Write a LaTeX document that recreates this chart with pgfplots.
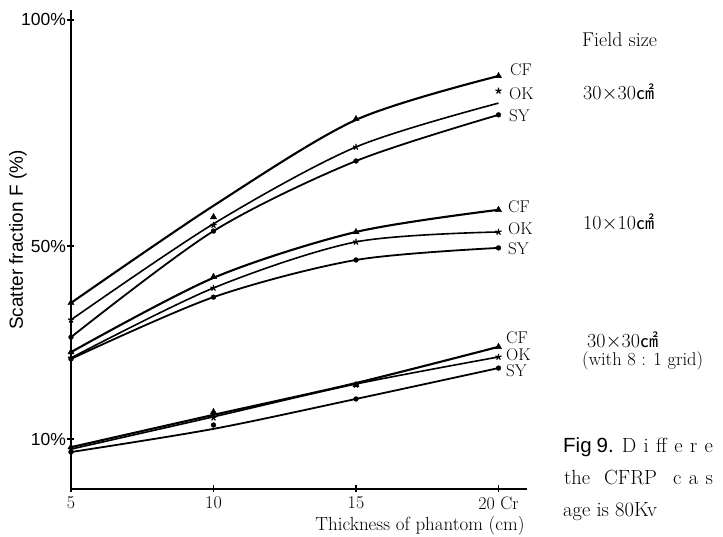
\documentclass[border=0pt]{standalone}
\usepackage{fontspec}
\usepackage{pgfplots}
\usepackage{pgfplotstable}
\pgfplotsset{compat=1.18}
\newfontfamily\sansfont{Liberation Sans}
\newfontfamily\cjk{Noto Sans CJK JP}
\newfontfamily\spacedrm{Latin Modern Roman}[LetterSpace=36]

% Scatter fraction (%) against phantom thickness (cm).
% cf/ok/sy: drawn curves, cfm/okm/sym: measured points
\pgfplotstableread{
x  cf   ok   sy   cfm  okm  sym
5  38.2 34.7 31.1 38.2 34.7 31.1
10 58.9 54.9 53.3 56.4 54.6 53.3
15 77.9 71.9 68.8 78.1 71.9 68.8
20 87.6 81.6 79.0 87.6 84.3 79.0
}\fieldlarge
\pgfplotstableread{
x  cf   ok   sy   cfm  okm  sym
5  28.0 26.8 26.6 28.0 26.8 26.6
10 43.4 41.3 39.4 43.6 41.3 39.4
15 53.1 50.9 47.1 53.1 50.9 47.1
20 58.0 53.1 49.6 58.0 53.1 49.6
}\fieldsmall
\pgfplotstableread{
x  cf   ok   sy   cfm  okm  sym
5  8.3  7.9  7.3  8.3  7.9  7.3
10 15.0 14.6 12.1 15.6 14.4 12.9
15 21.6 21.4 18.3 21.2 21.2 18.3
20 29.1 27.0 24.7 29.1 27.0 24.7
}\fieldgrid

\newcommand\curveset[1]{%
  \addplot[smooth, line width=2.1pt] table[x=x,y=cf]{#1};
  \addplot[smooth, line width=1.6pt] table[x=x,y=ok]{#1};
  \addplot[smooth, line width=1.8pt] table[x=x,y=sy]{#1};
  \addplot[only marks, mark=triangle*, mark size=3.6pt] table[x=x,y=cfm]{#1};
  \addplot[only marks, mark=star, mark size=3.2pt, mark options={line width=1.2pt}] table[x=x,y=okm]{#1};
  \addplot[only marks, mark=*, mark size=2.4pt] table[x=x,y=sym]{#1};
}

\begin{document}
\begin{tikzpicture}[x=1pt,y=1pt]
\path[use as bounding box] (-71,-48) rectangle (652,489);
\begin{axis}[
  at={(0,0)}, anchor=south west,
  scale only axis, width=456pt, height=479pt,
  xmin=5, xmax=21, ymin=-0.36, ymax=102.2,
  y coord trafo/.code={\pgfmathparse{#1<50 ? #1 : 50+(#1-50)*0.9368}},
  axis x line=bottom, axis y line=left,
  axis line style={-, line width=1.4pt},
  xtick={5,10,15,20}, xticklabels={5,10,15,20 Cr},
  ytick={10,50,100}, yticklabels={10\%,50\%,100\%},
  tick align=center, major tick length=7pt,
  tick style={line width=1.2pt, black},
  xticklabel style={font=\fontsize{18}{20}\selectfont, yshift=-1pt},
  yticklabel style={font=\sansfont\fontsize{17.5}{20}\selectfont, xshift=2pt},
  clip=false,
]
\curveset{\fieldlarge}
\curveset{\fieldsmall}
\curveset{\fieldgrid}
\end{axis}

% curve names
\begin{scope}[every node/.style={anchor=base west, inner sep=0pt, font=\fontsize{17}{19}\selectfont}]
\node at (439,413) {CF};
\node at (438,389) {OK};
\node at (438,367) {SY};
\node at (437,276) {CF};
\node at (437,254) {OK};
\node at (437,234) {SY};
\node at (435,145) {CF};
\node at (435,128) {OK};
\node at (435,112) {SY};
\end{scope}

% field sizes
\begin{scope}[every node/.style={anchor=base west, inner sep=0pt, font=\fontsize{20}{22}\selectfont}]
\node at (511,442) {Field size};
\node at (512,389) {30$\times$30{\cjk\fontsize{18}{20}\selectfont ㎠}};
\node at (512,259) {10$\times$10{\cjk\fontsize{18}{20}\selectfont ㎠}};
\node at (516,141) {30$\times$30{\cjk\fontsize{18}{20}\selectfont ㎠}};
\node[font=\fontsize{18.5}{20}\selectfont] at (511,123) {(with 8 : 1 grid)};
\end{scope}

% axis titles
\node[rotate=90, font=\sansfont\fontsize{19}{21}\selectfont] at (-53,249) {Scatter fraction F (\%)};
\node[anchor=base, font=\fontsize{19}{21}\selectfont] at (349,-42) {Thickness of phantom (cm)};

% caption (the visible start of each line)
\begin{scope}[every node/.style={anchor=base west, inner sep=0pt, font=\fontsize{20.5}{23}\selectfont}]
\node at (492,36) {{\sansfont Fig\hspace{5pt}9.}\hspace{8pt}{\spacedrm Differe}};
\node at (493,4) {the\hspace{14pt}CFRP\hspace{16pt}{\spacedrm cas}};
\node at (492,-28) {age is 80Kv};
\end{scope}
\end{tikzpicture}
\end{document}
